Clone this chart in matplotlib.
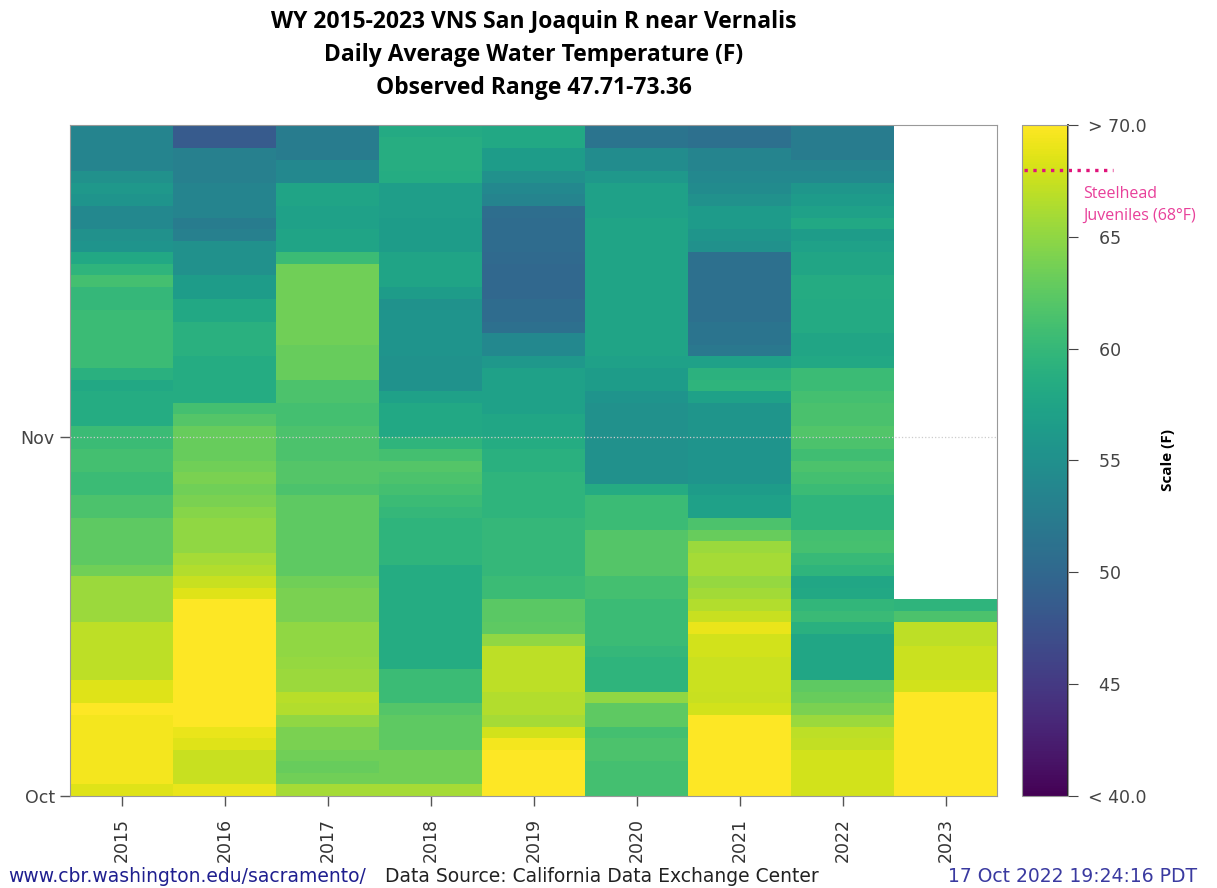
import numpy as np
import matplotlib.pyplot as plt

years = ['2015', '2016', '2017', '2018', '2019', '2020', '2021', '2022', '2023']
n_days = 58  # Oct 1 .. Nov 27

# daily average water temperature (F), row 0 = Oct 1
wy2015 = [68.5, 69.5, 69.5, 69.5, 69.5, 69.5, 69.5, 70.5, 68.5, 68.5,
          67, 67, 67, 67, 67, 65.5, 65.5, 65.5, 65.5, 63.5,
          62.5, 62.5, 62.5, 62.5, 61.5, 61.5, 60.5, 60.5, 61, 61,
          60.5, 60.5, 58.5, 58.5, 58.5, 58, 59, 60.5, 60.5, 60.5,
          60.5, 60.5, 60, 60, 61, 59.5, 58, 55.5, 55, 54,
          54, 55.5, 56, 55, 53.5, 53.5, 53.5, 53.5]
wy2016 = [69, 67.5, 67.5, 67.5, 68.5, 69, 71, 71, 71, 71,
          71, 71, 71, 71, 71, 71, 70.5, 68.5, 67.5, 66.5,
          66, 65, 65, 65, 64.5, 64, 63.5, 64, 63.5, 63,
          63, 63, 62, 61, 58.5, 58.5, 58.5, 58.5, 59, 59,
          59, 58, 58, 56.5, 56.5, 55, 55, 55, 53, 52.5,
          53.5, 53.5, 53.5, 53, 53, 53, 48.5, 48.5]
wy2017 = [66, 63.5, 63, 63.5, 64, 64, 65, 66.5, 66.8, 65.5,
          65.5, 65.3, 65, 65, 65, 64, 64, 64, 63.5, 62.5,
          62.5, 62.5, 62.5, 62.5, 62.5, 62.5, 61.5, 62, 62, 61.5,
          61.5, 61.5, 61, 61, 61.5, 61.5, 63, 63, 63, 63.5,
          63.5, 63.5, 63.5, 63.5, 63.5, 63.5, 60.5, 57.5, 57.5, 57,
          57, 57.5, 57.5, 54, 54, 52.5, 52.5, 52.5]
wy2018 = [66, 63.5, 63.5, 63.5, 62.5, 62.5, 62.5, 62, 60.5, 60.5,
          60.5, 58.5, 58.5, 58.5, 58.5, 58.5, 58.5, 58.5, 58.5, 58.5,
          59.5, 59.5, 59.5, 59.5, 60, 60.5, 61, 61.5, 62, 61,
          59.5, 58, 58, 58, 57, 55.2, 55.2, 55.2, 55.5, 55.5,
          55.5, 55.5, 55.3, 56.5, 57.5, 57.5, 57.5, 56.5, 56.5, 56.5,
          56.7, 56.7, 56.7, 58.5, 58.7, 58.7, 58.7, 58.2]
wy2019 = [70.5, 71, 71, 71, 69.5, 68, 66, 66.5, 66.5, 67,
          67, 67, 67, 65, 62.5, 62.3, 62.3, 60.5, 60.5, 60,
          60, 60, 60, 60, 59.5, 59.5, 59.5, 59.5, 59, 59,
          58.5, 57.7, 57.7, 57, 57, 57, 57, 56, 54, 54,
          51, 50.5, 50.5, 50, 50, 50, 50.3, 50.5, 50.5, 50.5,
          50.7, 53.5, 54, 55, 56.5, 56.5, 58, 58]
wy2020 = [61, 61, 61, 61.5, 61.5, 61, 62.5, 62.5, 65, 59.5,
          59.5, 59.5, 60, 60.5, 60.5, 60.5, 60.5, 61, 61, 62,
          62, 62, 62, 60.5, 60.5, 60.5, 58.3, 55, 55, 55,
          55, 55, 55, 55, 55.5, 56.5, 56.5, 57, 57.5, 57.5,
          57.5, 57.5, 57.5, 57.5, 57.5, 57.5, 57.5, 57.5, 57.5, 57.5,
          57, 57, 57, 56, 54.5, 54.5, 51.5, 51.5]
wy2021 = [71, 71, 71, 71, 71, 71, 70, 68, 67.5, 67.6,
          67.6, 67.6, 68, 68, 69, 67.5, 66.5, 65.8, 65.3, 66,
          66, 65.5, 63, 61.5, 57, 57, 56.5, 55.5, 55.5, 55.5,
          55.5, 55.7, 55.7, 55.7, 57, 59.5, 59.2, 57, 52, 51.5,
          51.5, 51, 51, 51, 51, 51, 51, 55, 55.7, 56.3,
          56.3, 55, 54.3, 54, 53.5, 53.5, 51, 51]
wy2022 = [68, 68, 68, 68, 67.3, 67, 65.5, 64, 63, 62.5,
          57.7, 57.7, 57.7, 57.7, 59, 60.3, 59.8, 58, 57.7, 59.5,
          60.2, 61.2, 61, 59.5, 59.5, 59.5, 60.5, 61, 61.5, 60.8,
          61.5, 61.8, 61.4, 61.4, 61, 60.5, 60.5, 58, 57.6, 57.6,
          58.2, 58.2, 58.2, 58.3, 58.3, 57.6, 57.6, 57, 56.5, 58,
          57, 56.3, 55.8, 54, 53.5, 52.5, 52.5, 52.5]
wy2023 = [70, 70, 70, 70, 70, 71, 71, 71, 70.5, 68,
          67.6, 67.6, 67.6, 67, 67, 61.5, 59.5]

cbar_ticks = [40, 45, 50, 55, 60, 65, 70]
cbar_labels = ['< 40.0', '  45', '  50', '  55', '  60', '  65', '> 70.0']
steelhead = 68

cols = [wy2015, wy2016, wy2017, wy2018, wy2019, wy2020, wy2021, wy2022, wy2023]
grid = np.full((n_days, len(years)), np.nan)
for j, vals in enumerate(cols):
    grid[:len(vals), j] = vals
grid = np.ma.masked_invalid(grid)

W, H = 1217, 888
fig = plt.figure(figsize=(W / 100, H / 100), dpi=100)
ax = fig.add_axes([70 / W, 1 - 796 / H, 927 / W, 671 / H])
mesh = ax.pcolormesh(np.arange(len(years) + 1), np.arange(n_days + 1), grid,
                     cmap='viridis', vmin=40, vmax=70)
ax.set_xlim(0, len(years))
ax.set_ylim(0, n_days)
ax.axhline(31, color='#cccccc', ls=':', lw=0.9)

ax.set_xticks(np.arange(len(years)) + 0.5)
ax.set_xticklabels(years, rotation=90, fontsize=12.5, color='#333333')
ax.set_yticks([0, 31])
ax.set_yticklabels(['Oct', 'Nov'], fontsize=12.5, color='#444444')
ax.tick_params(length=7.5, color='#555555', width=1)
ax.tick_params(axis='x', pad=8)
for s in ax.spines.values():
    s.set_color('#999999')

cax = fig.add_axes([1022 / W, 1 - 796 / H, 46 / W, 671 / H])
cb = fig.colorbar(mesh, cax=cax, ticks=cbar_ticks)
cb.set_ticklabels(cbar_labels)
cax.tick_params(length=7.5, color='#444444', labelsize=12.5, labelcolor='#444444', pad=7)
cb.outline.set_edgecolor('#999999')
cax.plot([1, 1], [0, 1], transform=cax.transAxes, color='#222222', lw=1.3, clip_on=False)
cax.plot([0.05, 1.98], [steelhead, steelhead], transform=cax.get_yaxis_transform(),
         color='#e0147a', ls=':', lw=2.4, clip_on=False)
fig.text(1083 / W, 1 - 186 / H, 'Steelhead\nJuveniles (68°F)',
         color='#e8409a', fontsize=11.5, va='top', ha='left', linespacing=1.5,
         family='Open Sans')
fig.text(1168 / W, 1 - 460 / H, 'Scale (F)', rotation=90, fontsize=11,
         fontweight='bold', ha='center', va='center', family='Open Sans')

title = ['WY 2015-2023 VNS San Joaquin R near Vernalis',
         'Daily Average Water Temperature (F)',
         'Observed Range 47.71-73.36']
for k, line in enumerate(title):
    fig.text(534 / W, 1 - (22 + 33 * k) / H, line, ha='center', va='center',
             fontsize=16.5, fontweight='bold', family='Open Sans')

foot = ['Liberation Sans Narrow', 'DejaVu Sans']
fig.text(8 / W, 1 - 876 / H, 'www.cbr.washington.edu/sacramento/', color='#1f1f8f',
         fontsize=13.5, family=foot, va='center')
fig.text(385 / W, 1 - 876 / H, 'Data Source: California Data Exchange Center',
         color='#222222', fontsize=13.5, family=foot, va='center')
fig.text(1197 / W, 1 - 876 / H, '17 Oct 2022 19:24:16 PDT', color='#3a3aa0',
         fontsize=13.5, family=foot, va='center', ha='right')

fig.savefig('out.png', dpi=100)
